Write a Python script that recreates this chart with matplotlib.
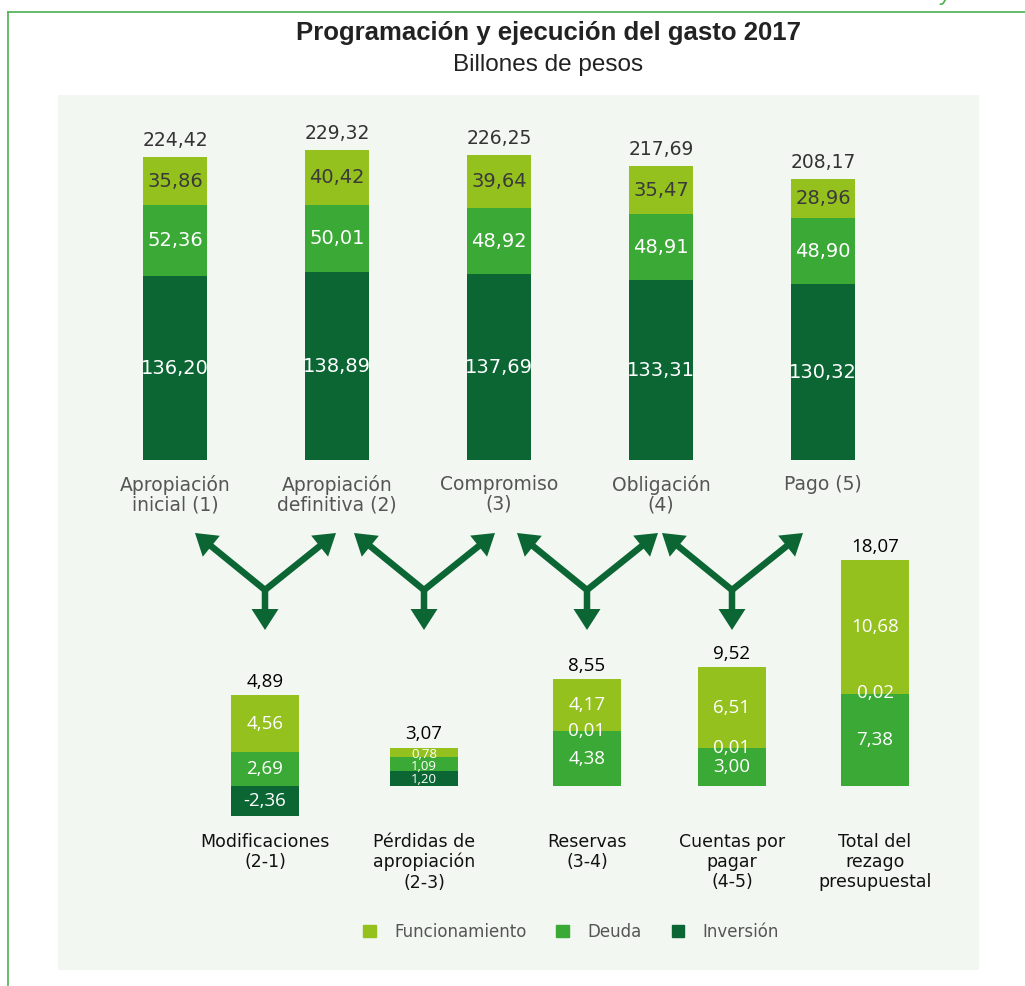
import matplotlib.pyplot as plt
from matplotlib.patches import Rectangle, FancyArrow, Patch

# Top chart: programación y ejecución (billones de pesos)
etapas = ["Apropiación\ninicial (1)", "Apropiación\ndefinitiva (2)", "Compromiso\n(3)",
          "Obligación\n(4)", "Pago (5)"]
func_top = [35.86, 40.42, 39.64, 35.47, 28.96]
deuda_top = [52.36, 50.01, 48.92, 48.91, 48.90]
inv_top = [136.20, 138.89, 137.69, 133.31, 130.32]
total_top = [224.42, 229.32, 226.25, 217.69, 208.17]

# Bottom chart: differences between stages
diferencias = ["Modificaciones\n(2-1)", "Pérdidas de\napropiación\n(2-3)", "Reservas\n(3-4)",
               "Cuentas por\npagar\n(4-5)", "Total del\nrezago\npresupuestal"]
func_bot = [4.56, 0.78, 4.17, 6.51, 10.68]
deuda_bot = [2.69, 1.09, 4.38, 3.00, 7.38]
inv_bot = [-2.36, 1.20, 0.01, 0.01, 0.02]
total_bot = [4.89, 3.07, 8.55, 9.52, 18.07]

fmt = lambda v: f"{v:.2f}".replace(".", ",")

C_FUNC = "#95c11f"
C_DEUDA = "#3aa935"
C_INV = "#0b6634"
BG = "#f2f7f1"
W, H = 1025, 986

fig = plt.figure(figsize=(W / 100, H / 100), dpi=100)
fig.patch.set_facecolor("white")

# pixel-space layer for frame, panel and arrows
deco = fig.add_axes([0, 0, 1, 1], zorder=0)
deco.set_xlim(0, W)
deco.set_ylim(H, 0)
deco.axis("off")
deco.add_patch(Rectangle((58, 95), 921, 875, color=BG, lw=0))
deco.plot([8, 8], [12, H], color="#4caf50", lw=1.2)
deco.plot([8, W], [12, 12], color="#4caf50", lw=1.2)
deco.text(940, 1, "y", color="#4caf50", fontsize=15, style="italic", va="baseline")

title_font = ["DejaVu Sans Condensed", "Liberation Sans", "DejaVu Sans"]
deco.text(548, 33, "Programación y ejecución del gasto 2017", ha="center", va="center",
          fontsize=18.5, fontweight="bold", family=title_font, color="#222222")
deco.text(548, 65, "Billones de pesos", ha="center", va="center",
          fontsize=17.5, family=title_font, color="#222222")

# ---- top stacked bars ----
top_x = [175, 337, 499, 661, 823]
px_top = 1.35  # pixels per billón
ax1 = fig.add_axes([0, 1 - 460 / H, 1, 360 / H], zorder=2)
ax1.set_xlim(0, W)
ax1.set_ylim(0, 360 / px_top)
ax1.patch.set_alpha(0)
for s in ax1.spines.values():
    s.set_visible(False)
ax1.set_yticks([])

ax1.bar(top_x, inv_top, width=64, color=C_INV)
ax1.bar(top_x, deuda_top, width=64, bottom=inv_top, color=C_DEUDA)
b2 = [i + d for i, d in zip(inv_top, deuda_top)]
ax1.bar(top_x, func_top, width=64, bottom=b2, color=C_FUNC)

for x, i, d, f, t in zip(top_x, inv_top, deuda_top, func_top, total_top):
    ax1.text(x, i / 2, fmt(i), ha="center", va="center", color="white", fontsize=14)
    ax1.text(x, i + d / 2, fmt(d), ha="center", va="center", color="white", fontsize=14)
    ax1.text(x, i + d + f / 2, fmt(f), ha="center", va="center", color="#3a3a3a", fontsize=14)
    ax1.annotate(fmt(t), xy=(x, i + d + f), xytext=(0, 5), textcoords="offset points",
                 ha="center", va="bottom", color="#333333", fontsize=13.5)

ax1.set_xticks(top_x, etapas, fontsize=13.5, color="#555555")
ax1.tick_params(axis="x", length=0, pad=11)
for lbl in ax1.get_xticklabels():
    lbl.set_linespacing(1.0)

# ---- bottom bars ----
bot_x = [265, 424, 587, 732, 875]
px_bot = 12.5
zero_px = 786
ax2 = fig.add_axes([0, 1 - 830 / H, 1, 290 / H], zorder=2)
ax2.set_xlim(0, W)
ax2.set_ylim(-(830 - zero_px) / px_bot, (zero_px - 540) / px_bot)
ax2.patch.set_alpha(0)
for s in ax2.spines.values():
    s.set_visible(False)
ax2.set_yticks([])

bot_font = ["Open Sans", "DejaVu Sans"]
for x, f, d, i, t in zip(bot_x, func_bot, deuda_bot, inv_bot, total_bot):
    # positive parts stack upward from zero, negative parts hang below
    ax2.bar(x, i, width=68, color=C_INV)
    base = max(i, 0)
    ax2.bar(x, d, width=68, bottom=base, color=C_DEUDA)
    ax2.bar(x, f, width=68, bottom=base + d, color=C_FUNC)
    top = base + d + f

    if i > 0.05 and top < 5:
        # short bar: spread the three labels evenly over its height
        fs = 9.5
        ys = [top / 6, top / 2, top * 5 / 6]
    else:
        fs = 13.5
        inv_y = base + d if abs(i) < 0.05 else i / 2
        ys = [inv_y, base + d / 2, base + d + f / 2]
    for v, y in zip([i, d, f], ys):
        ax2.text(x, y, fmt(v), ha="center", va="center", color="white",
                 fontsize=fs, family=bot_font)
    ax2.annotate(fmt(t), xy=(x, top), xytext=(0, 3), textcoords="offset points",
                 ha="center", va="bottom", color="black", fontsize=13.5, family=bot_font)

ax2.set_xticks(bot_x, diferencias, fontsize=12.5, color="#111111")
ax2.tick_params(axis="x", length=0, pad=2)
for lbl in ax2.get_xticklabels():
    lbl.set_linespacing(1.15)

# ---- Y-shaped arrows linking the stages ----
for xc in bot_x[:4]:
    jy = 590
    for tx, ty in [(xc - 70, 533), (xc + 71, 533), (xc, 630)]:
        deco.add_patch(FancyArrow(xc, jy, tx - xc, ty - jy, width=6.5, head_width=27,
                                  head_length=21, length_includes_head=True,
                                  color=C_INV, lw=0))

# ---- legend ----
handles = [Patch(color=C_FUNC), Patch(color=C_DEUDA), Patch(color=C_INV)]
leg = fig.legend(handles, ["Funcionamiento", "Deuda", "Inversión"], loc="center",
                 bbox_to_anchor=(571 / W, 1 - 932 / H), ncol=3, frameon=False,
                 fontsize=12, handlelength=0.75, handleheight=0.75,
                 handletextpad=1.1, columnspacing=1.8)
for txt in leg.get_texts():
    txt.set_color("#555555")

fig.savefig("out.png", dpi=100, facecolor="white")
